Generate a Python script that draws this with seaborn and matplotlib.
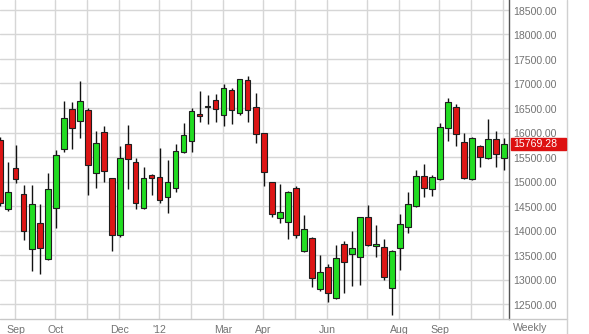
import matplotlib
matplotlib.use("Agg")
import matplotlib.pyplot as plt
import matplotlib.transforms as mtransforms
from matplotlib.lines import Line2D
from matplotlib.patches import Rectangle
import seaborn as sns
import numpy as np
import pandas as pd

# ---- data (weekly OHLC) ----
opens = [15847, 14433, 15269, 14739, 13616, 14147, 13412, 14453, 15657, 16473,
         16235, 16459, 15167, 16004, 15065, 13908, 15759, 15392, 14453, 15133,
         15086, 14690, 14861, 15608, 15827, 16378, 16515, 16657, 16357, 16861,
         16392, 17065, 16527, 15984, 14984, 14249, 14180, 14861, 13588, 13853,
         12806, 13249, 12616, 13725, 13514, 13465, 14269, 13678, 13669, 12820,
         13637, 14065, 14506, 15118, 14841, 15045, 16086, 16514, 15800, 15045,
         15718, 15473, 15861, 15473]
highs = [15900, 15404, 15745, 14929, 14929, 14541, 15167, 15643, 16643, 16616,
         17051, 16494, 16031, 16133, 15080, 15724, 16153, 15473, 15290, 15153,
         15678, 15439, 15759, 16200, 16494, 16847, 16765, 16780, 16990, 16902,
         17095, 17153, 16800, 16000, 14996, 14949, 14812, 14908, 14316, 13860,
         13500, 13316, 13704, 13792, 13996, 14280, 14520, 14112, 13820, 13600,
         14337, 14780, 15235, 15351, 15133, 16200, 16710, 16582, 16000, 15900,
         15745, 16269, 16031, 15882]
lows = [14500, 14404, 14963, 13806, 13180, 13106, 13400, 14045, 15608, 15657,
        15882, 14725, 14861, 14984, 13588, 13873, 14841, 14433, 14433, 14725,
        14567, 14363, 14792, 15588, 15608, 16220, 16167, 16220, 16139, 16167,
        16357, 16208, 15780, 14914, 14282, 14147, 13820, 13841, 13567, 12853,
        12771, 12547, 12600, 12718, 12867, 12888, 13690, 13465, 12990, 12276,
        13194, 13955, 14474, 14690, 14710, 15031, 15833, 15724, 15050, 15030,
        15302, 15460, 15302, 15235]
closes = [14567, 14792, 15045, 13996, 14535, 13637, 14841, 15535, 16290, 16086,
          16649, 15331, 15780, 15208, 13908, 15473, 15453, 14555, 15065, 15065,
          14622, 14996, 15629, 15949, 16439, 16331, 16535, 16473, 16902, 16459,
          17086, 16459, 15963, 15188, 14331, 14384, 14780, 13908, 14031, 13025,
          13147, 12718, 13433, 13363, 13649, 14269, 13698, 13725, 13045, 13588,
          14127, 14535, 15118, 14861, 15098, 16106, 16616, 15969, 15065, 15882,
          15494, 15861, 15555, 15769.28]
last_price = 15769.28

month_grid_pos = [2, 7, 11, 15, 20, 24, 28, 33, 37, 41, 46, 50, 55, 59, 63]
month_labels = ["Sep", "Oct", "", "Dec", "'12", "", "Mar", "Apr", "", "Jun",
                "", "Aug", "Sep", "", ""]
price_ticks = [12500, 13000, 13500, 14000, 14500, 15000, 15500, 16000,
               16500, 17000, 17500, 18000, 18500]

df = pd.DataFrame({"open": opens, "high": highs, "low": lows, "close": closes})
df["week"] = np.arange(len(df))
df["up"] = df["close"] >= df["open"]

# ---- style ----
sns.set_style("white")
plt.rcParams["font.family"] = ["Liberation Sans", "DejaVu Sans"]

W, H = 589, 334
fig = plt.figure(figsize=(W / 100, H / 100), dpi=100)
ax_right_px = 509.3
ax_bottom_px = 319
ax = fig.add_axes([0, (H - ax_bottom_px) / H, ax_right_px / W, ax_bottom_px / H])

grid_c = "#d6d6d6"
green = "#22dd22"
red = "#dd1515"
edge = "#1e1e1e"
txt_c = "#737373"

# grid
for yv in price_ticks:
    ax.axhline(yv, color=grid_c, lw=1.0, zorder=0)
for xv in month_grid_pos:
    ax.axvline(xv - 0.08, color=grid_c, lw=1.0, zorder=0)

# wicks
ax.vlines(df["week"], df["low"], df["high"], color="#111111", lw=1.0, zorder=2)

# bodies
body_bottom = df[["open", "close"]].min(axis=1)
body_h = (df["close"] - df["open"]).abs().clip(lower=8)
colors = [green if u else red for u in df["up"]]
ax.bar(df["week"], body_h, bottom=body_bottom, width=0.7, color=colors,
       edgecolor=edge, linewidth=0.8, zorder=3)

ax.set_xlim(0.0375, 63.7)
ax.set_ylim(12194, 18704)

ax.set_xticks(month_grid_pos)
ax.set_xticklabels(month_labels)
ax.set_yticks(price_ticks)
ax.set_yticklabels([f"{v:.2f}" for v in price_ticks])
ax.yaxis.tick_right()
ax.tick_params(axis="y", length=0, pad=3.0, labelsize=7.6, labelcolor=txt_c)
ax.tick_params(axis="x", length=0, pad=4.5, labelsize=7.6, labelcolor=txt_c)
offset = mtransforms.ScaledTranslation(0, -0.017, fig.dpi_scale_trans)
for lab in ax.get_yticklabels():
    lab.set_verticalalignment("center")
    lab.set_transform(lab.get_transform() + offset)

for s in ["left", "top", "bottom"]:
    ax.spines[s].set_visible(False)
ax.spines["right"].set_color("#555555")
ax.spines["right"].set_linewidth(1.0)

# frame lines of the label panel
fig.add_artist(Line2D([0, 566.7 / W], [(H - ax_bottom_px) / H] * 2,
                      color="#c8c8c8", lw=1.0, transform=fig.transFigure))
fig.add_artist(Line2D([566.7 / W] * 2, [0, 1], color="#d0d0d0", lw=1.0,
                      transform=fig.transFigure))

# last price tag
y_px = ax.transData.transform((0, last_price))[1]
fig.add_artist(Rectangle((510.8 / W, (y_px - 6) / H), (566 - 510.8) / W, 12 / H,
                         transform=fig.transFigure, color="#dd1111", zorder=5))
fig.text(513.5 / W, y_px / H, f"{last_price:.2f}", color="white", fontsize=7.6,
         va="center", ha="left", zorder=6)

fig.text(513 / W, (H - 328) / H, "Weekly", color=txt_c, fontsize=7.6,
         va="center", ha="left")

fig.savefig("out.png", dpi=100, facecolor="white")
